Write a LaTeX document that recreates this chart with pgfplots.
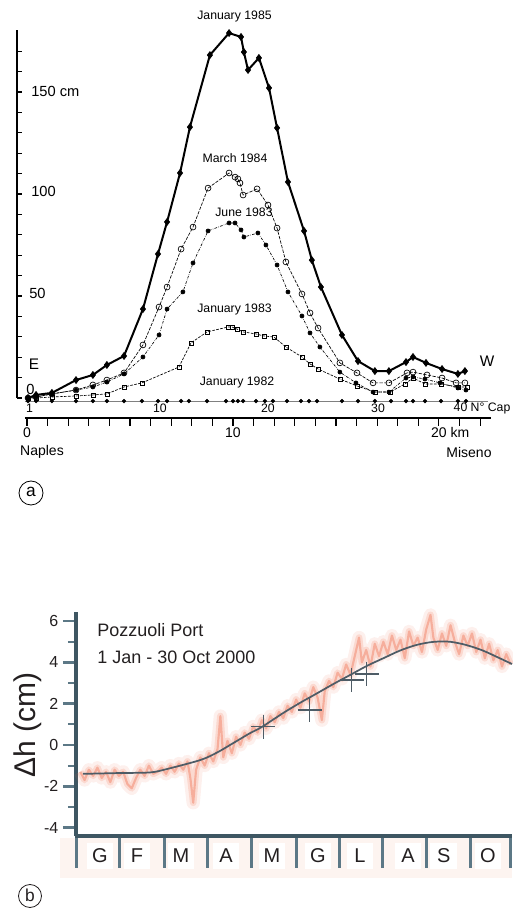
\documentclass[border=0pt]{standalone}
\usepackage{fontspec}
\setmainfont{Liberation Sans}
\usepackage{pgfplots}
\usepackage{pgfplotstable}
\pgfplotsset{compat=1.18}
\definecolor{axb}{RGB}{62,86,98}
\definecolor{tkb}{RGB}{92,120,134}
\definecolor{crv}{RGB}{78,92,102}
\definecolor{ora}{RGB}{238,110,78}
\definecolor{pinkbg}{RGB}{253,244,240}
\definecolor{txt}{RGB}{35,31,32}
\pgfplotstableread{
d h
3 -1.3
6 -1.7
9 -1.2
12 -1.5
15 -1.1
18 -1.6
21 -1.3
24 -1.8
27 -1.2
30 -1.5
33 -1.3
36 -1.9
39 -2.1
42 -1.6
45 -1.2
48 -1.5
51 -1.0
54 -1.4
57 -1.3
60 -1.1
63 -1.4
66 -1.0
69 -1.3
72 -0.9
75 -1.2
78 -0.8
80 -1.6
82 -2.8
84 -1.2
87 -0.6
90 -1.0
93 -0.4
96 -0.8
99 -0.2
101 1.4
103 -0.6
106 0.2
109 -0.4
112 0.4
115 0.0
118 0.6
121 0.3
124 0.9
127 0.6
130 1.2
133 0.8
136 1.4
139 1.1
142 1.6
145 1.3
148 1.9
151 1.6
154 2.2
157 1.8
160 2.5
163 2.1
166 2.8
169 2.3
172 1.2
174 2.6
177 3.1
180 2.8
183 3.5
186 3.2
189 3.9
192 3.4
195 4.3
198 5.2
200 4.0
203 4.6
206 3.8
209 4.9
212 4.3
215 5.0
218 4.4
221 5.3
224 4.6
227 5.1
230 4.2
233 5.5
236 4.8
239 5.2
242 4.5
245 5.6
248 6.3
250 5.2
253 4.6
256 5.4
259 4.8
262 5.8
265 5.0
268 4.4
271 5.3
274 4.8
277 5.4
280 4.5
283 5.1
286 4.2
289 4.9
292 4.1
295 4.6
298 3.8
301 4.4
304 3.9
}\tidedata
\begin{document}
\begin{tikzpicture}[x=0.75pt,y=0.75pt]
\useasboundingbox (0,0) rectangle (512,908);
% ================= panel a =================
\begin{axis}[
  at={(12.75pt,382.5pt)}, anchor=south west,
  scale only axis, width=355.4pt, height=276pt,
  xmin=-0.485, xmax=22.52, ymin=0, ymax=180.4,
  axis x line=none, axis y line=left,
  y axis line style={-, black, line width=1.5pt},
  xtick=\empty,
  ytick={0,10,...,170}, yticklabels={},
  tick align=inside, major tick length=4pt,
  tick style={black, line width=0.9pt},
  clip=false,
]
\draw[gray, line width=0.7pt] (axis cs:-0.097,-1.5) -- (axis cs:22.38,-1.5);
% January 1982
\addplot[only marks, mark=*, mark size=1.4pt, black] coordinates {
(0.05,-1.5) (0.44,-1.5) (1.21,-1.5) (2.38,-1.5) (3.20,-1.5) (3.88,-1.5) (4.71,-1.5) (5.58,-1.5)
(6.36,-1.5) (6.80,-1.5) (7.48,-1.5) (7.86,-1.5) (8.74,-1.5) (9.66,-1.5) (10.00,-1.5) (10.24,-1.5)
(10.49,-1.5) (11.12,-1.5) (11.55,-1.5) (11.94,-1.5) (12.62,-1.5) (13.30,-1.5) (13.69,-1.5) (14.08,-1.5)
(15.29,-1.5) (16.07,-1.5) (16.89,-1.5) (17.67,-1.5) (18.40,-1.5) (18.74,-1.5) (19.32,-1.5) (20.10,-1.5)
(20.92,-1.5) (21.31,-1.5)};
% January 1983
\addplot[black, line width=0.5pt, dash pattern=on 2pt off 1pt, mark=square, mark size=1.5pt, mark options={solid}] coordinates {
(0.05,0) (0.44,0) (1.21,0.5) (2.38,1.0) (3.20,1.5) (3.88,2.0) (4.71,5.4) (5.58,7.4)
(7.38,15.2) (7.96,27.0) (8.74,32.4) (9.76,34.8) (9.95,34.8) (10.19,33.8) (10.49,32.4) (11.12,31.4)
(11.50,30.4) (11.99,29.9) (12.57,25.0) (13.35,20.1) (13.74,16.7) (14.13,14.2) (15.19,9.3) (16.02,5.9)
(16.89,2.9) (17.62,2.9) (18.35,6.9) (18.74,9.8) (19.32,6.9) (20.10,6.9) (20.92,5.4) (21.36,5.4)};
% June 1983
\addplot[black, line width=0.5pt, dash pattern=on 2pt off 1pt on 0.4pt off 1pt, mark=*, mark size=1.5pt, mark options={solid}] coordinates {
(0.05,0) (0.44,0.5) (1.21,2.0) (2.38,3.9) (3.20,5.4) (3.88,7.8) (4.71,11.8) (5.63,20.1)
(6.41,30.9) (6.80,43.6) (7.57,52.0) (8.06,66.2) (8.79,81.9) (9.81,85.8) (10.10,85.8) (10.39,82.4)
(10.53,78.9) (11.21,80.9) (11.60,75.0) (12.14,65.2) (12.67,52.0) (13.35,40.2) (13.74,31.9) (14.22,25.0)
(15.19,12.7) (15.97,7.4) (16.80,2.9) (17.57,2.9) (18.40,9.8) (18.74,10.3) (19.32,9.3) (20.05,7.4)
(20.92,4.9) (21.31,3.9)};
% March 1984
\addplot[black, line width=0.5pt, dash pattern=on 2.5pt off 1pt, mark=o, mark size=2.2pt, mark options={solid}] coordinates {
(0.05,0) (0.44,0.5) (1.21,2.0) (2.38,3.9) (3.20,6.4) (3.88,8.8) (4.71,12.3) (5.63,26.0)
(6.41,44.6) (6.80,54.4) (7.48,73.0) (8.06,83.8) (8.79,102.9) (9.81,110.3) (10.10,108.3) (10.24,107.4)
(10.34,105.4) (10.49,99.5) (11.17,102.5) (11.70,94.6) (12.14,83.3) (12.57,66.7) (13.35,51.0) (13.74,41.7)
(14.13,34.3) (15.19,17.2) (16.02,12.3) (16.80,7.4) (17.57,7.4) (18.45,12.3) (18.74,12.7) (19.42,11.3)
(20.15,9.8) (20.83,7.4) (21.26,7.4)};
% January 1985
\addplot[black, line width=1.5pt, mark=diamond*, mark size=2.6pt, mark options={line width=0.5pt}] coordinates {
(0.05,0) (0.44,1.5) (1.21,2.5) (2.38,8.8) (3.20,11.3) (3.88,16.2) (4.71,20.6) (5.63,43.6)
(6.36,70.6) (6.80,86.3) (7.43,110.3) (7.91,132.8) (8.88,168.1) (9.81,178.9) (10.39,177.0) (10.53,169.6)
(10.73,160.8) (11.26,166.7) (11.75,152.0) (12.14,132.4) (12.67,105.9) (13.45,81.9) (13.83,67.6) (14.27,54.4)
(15.29,30.9) (16.07,18.1) (16.89,13.2) (17.57,13.2) (18.40,17.6) (18.74,20.1) (19.37,17.2) (20.15,14.2)
(20.92,11.8) (21.26,13.2)};
\end{axis}
% km scale
\begin{axis}[
  at={(18.75pt,367.5pt)}, anchor=south west,
  scale only axis, width=349.4pt, height=4pt,
  xmin=-0.097, xmax=22.52, ymin=0, ymax=1,
  axis x line=bottom, axis y line=none,
  x axis line style={-, black, line width=1.9pt},
  xtick={0,10,20}, xticklabels={0,10,20\rlap{~km}},
  minor xtick={1,2,3,4,5,6,7,8,9,11,12,13,14,15,16,17,18,19,21,22},
  tick align=outside, major tick length=6pt, minor tick length=6pt,
  tick style={black, line width=0.8pt},
  xticklabel style={font=\fontsize{10.5}{12}\selectfont, inner sep=1pt},
]
\addplot[draw=none, forget plot] coordinates {(0,0)};
\end{axis}
% panel a texts
\begin{scope}[every node/.style={font=\fontsize{9.2}{11}\selectfont, inner sep=0pt}]
\node at (234.5,892) {January 1985};
\node at (235,750) {March 1984};
\node at (244,696) {June 1983};
\node at (234.5,599) {January 1983};
\node at (237,525.5) {January 1982};
\node at (29.5,500) {1};
\node at (160,500) {10};
\node at (268,500) {20};
\node at (378,500) {30};
\node at (460.5,500) {40\rlap{~N° Cap}};
\end{scope}
\begin{scope}[every node/.style={font=\fontsize{11}{13}\selectfont, inner sep=0pt, anchor=west}]
\node at (31,817) {150 cm};
\node at (31,717) {100};
\node at (29,615) {50};
\node at (26,519) {0};
\end{scope}
\node[font=\fontsize{11.5}{13}\selectfont, inner sep=0pt] at (34,544) {E};
\node[font=\fontsize{11.5}{13}\selectfont, inner sep=0pt] at (487,547) {W};
\node[font=\fontsize{10.5}{12}\selectfont, inner sep=0pt] at (42,456) {Naples};
\node[font=\fontsize{10.5}{12}\selectfont, inner sep=0pt] at (469,456) {Miseno};
\draw[line width=0.6pt] (31,415) circle (12);
\node[font=\fontsize{13}{15}\selectfont, inner sep=0pt] at (31,416) {a};
% ================= panel b =================
\fill[pinkbg] (60,30) rectangle (512,70);
\begin{axis}[
  at={(57pt,54pt)}, anchor=south west,
  scale only axis, width=327pt, height=168pt,
  xmin=0, xmax=305, ymin=-4.41, ymax=6.44,
  axis x line=none, axis y line=left,
  y axis line style={-, axb, line width=2.3pt},
  xtick=\empty,
  ytick={-4,-2,0,2,4,6}, yticklabels={-4,-2,0,2,4,6},
  minor ytick={-3,-1,1,3,5},
  tick align=outside, major tick length=9.75pt, minor tick length=6pt,
  major tick style={tkb, line width=2pt}, minor tick style={tkb, line width=1.5pt},
  yticklabel style={font=\fontsize{12}{14}\selectfont, text=txt},
  clip=false,
]
\addplot[ora, opacity=0.1, line width=10pt, line join=round] table[x=d,y=h] {\tidedata};
\addplot[ora, opacity=0.18, line width=5pt, line join=round] table[x=d,y=h] {\tidedata};
\addplot[ora, opacity=0.4, line width=1.6pt, line join=round] table[x=d,y=h] {\tidedata};
\addplot[crv, line width=1.3pt, smooth] coordinates {
(4.9,-1.4) (30.8,-1.36) (52,-1.33) (64,-1.16) (87,-0.73) (98.6,-0.37) (110,0.09) (121.7,0.57)
(130,0.87) (145,1.55) (157,2.05) (168.6,2.5) (180,2.95) (191.8,3.39) (203.5,3.83) (215,4.2)
(226.6,4.57) (238,4.84) (249.7,4.99) (261.4,5.0) (273,4.84) (284.7,4.57) (296.4,4.2) (305,3.92)};
\addplot[only marks, mark=+, mark size=9pt, crv, mark options={line width=0.9pt}] coordinates {
(131,0.89) (163.6,1.69) (192.8,3.15) (203.3,3.44)};
\end{axis}
% month labels
\begin{axis}[
  at={(57pt,54pt)}, anchor=south west,
  scale only axis, width=327pt, height=168pt,
  xmin=0, xmax=305, ymin=-4.41, ymax=6.44,
  axis x line=bottom, axis y line=none,
  x axis line style={draw=none},
  xtick={16.8,42.7,73.4,104.9,137.1,169.2,198.6,232.2,257.3,288.1},
  xticklabels={G,F,M,A,M,G,L,A,S,O},
  major tick length=0pt,
  major tick style={draw=none},
  xticklabel style={font=\fontsize{15}{17}\selectfont, text=txt, fill=white, minimum width=20pt, minimum height=20pt, anchor=center, yshift=-15pt, inner sep=0pt},
]
\addplot[draw=none, forget plot] coordinates {(0,0)};
\end{axis}
% month boundary ticks and bottom axis line (panel b frame)
\fill[tkb] (74.5,40) rectangle (77.5,72);
\fill[tkb] (117.5,40) rectangle (120.5,72);
\fill[tkb] (162.5,40) rectangle (165.5,72);
\fill[tkb] (205.5,40) rectangle (208.5,72);
\fill[tkb] (249.5,40) rectangle (252.5,72);
\fill[tkb] (294.5,40) rectangle (297.5,72);
\fill[tkb] (337.5,40) rectangle (340.5,72);
\fill[tkb] (380.5,40) rectangle (383.5,72);
\fill[tkb] (424.5,40) rectangle (427.5,72);
\fill[tkb] (468.5,40) rectangle (471.5,72);
\fill[tkb] (509,40) rectangle (512,72);
\draw[axb, line width=2.8pt] (74.5,72) -- (512,72);
\node[anchor=west, font=\fontsize{13.5}{16}\selectfont, text=txt, inner sep=0pt] at (97,278) {Pozzuoli Port};
\node[anchor=west, font=\fontsize{13.5}{16}\selectfont, text=txt, inner sep=0pt] at (97,251) {1 Jan - 30 Oct 2000};
\node[rotate=90, font=\fontsize{22.5}{26}\selectfont, text=txt, inner sep=0pt] at (28,183) {Δh (cm)};
\draw[line width=0.6pt, txt] (30,12) circle (11.5);
\node[font=\fontsize{13}{15}\selectfont, text=txt, inner sep=0pt] at (30,13) {b};
\end{tikzpicture}
\end{document}
